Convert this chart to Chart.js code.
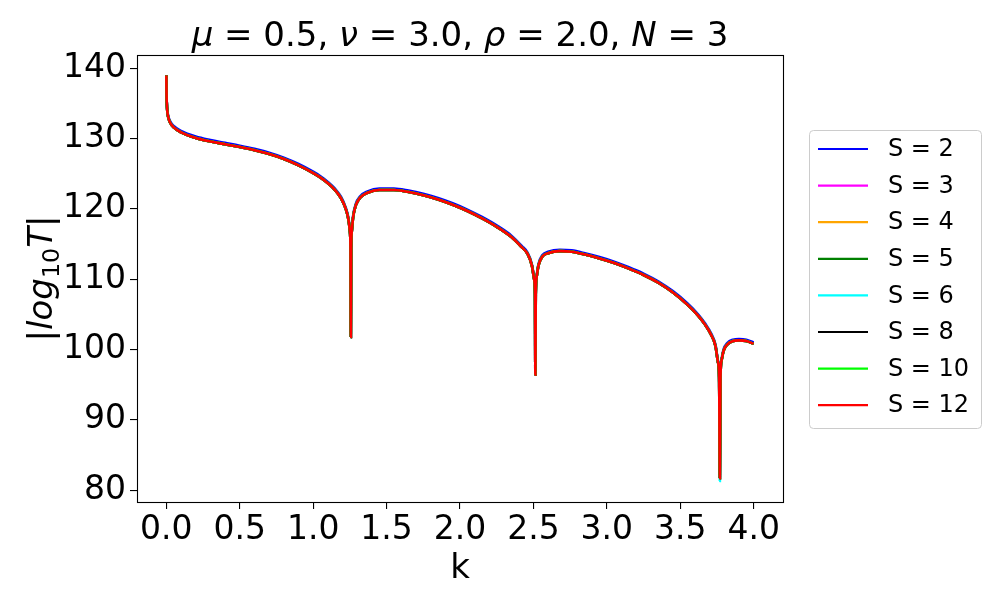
<!DOCTYPE html>
<html>
<head>
<meta charset="utf-8">
<script src="https://cdn.jsdelivr.net/npm/chart.js@4.4.0/dist/chart.umd.min.js"></script>
<style>
  html, body { margin: 0; padding: 0; background: #ffffff; }
  #wrap { width: 1000px; height: 600px; position: relative; }
</style>
</head>
<body>
<div id="wrap"><canvas id="c" width="1000" height="600"></canvas></div>
<script>
// ---- Data ----
const kValues = [0, 0.001, 0.003, 0.006, 0.012, 0.025, 0.05, 0.1, 0.2, 0.3, 0.4, 0.5, 0.6, 0.7, 0.8, 0.9, 1.0, 1.05, 1.1, 1.15, 1.19, 1.22, 1.24, 1.25, 1.254, 1.2566, 1.259, 1.263, 1.272, 1.29, 1.32, 1.37, 1.45, 1.55, 1.65, 1.75, 1.85, 1.95, 2.05, 2.15, 2.25, 2.35, 2.42, 2.46, 2.49, 2.505, 2.511, 2.5133, 2.516, 2.522, 2.535, 2.56, 2.6, 2.68, 2.76, 2.85, 2.95, 3.05, 3.15, 3.25, 3.35, 3.45, 3.55, 3.62, 3.67, 3.71, 3.74, 3.757, 3.765, 3.7699, 3.774, 3.782, 3.795, 3.82, 3.86, 3.9, 3.95, 4.0];

// S = 2 (blue) sits slightly above the others
const logT_S2 = [139.0, 136.6, 135.1, 134.1, 133.3, 132.5, 131.8, 131.1, 130.3, 129.8, 129.4, 129.0, 128.55, 128.0, 127.3, 126.4, 125.3, 124.65, 123.85, 122.85, 121.7, 120.3, 118.7, 117.0, 114.7, 101.8, 114.7, 117.0, 119.0, 120.7, 121.8, 122.5, 122.9, 122.9, 122.6, 122.15, 121.55, 120.8, 119.9, 118.85, 117.65, 116.2, 114.75, 113.8, 112.1, 110.2, 108.0, 96.4, 108.0, 110.5, 112.2, 113.4, 113.9, 114.2, 114.1, 113.7, 113.15, 112.5, 111.7, 110.8, 109.7, 108.3, 106.55, 105.05, 103.7, 102.3, 100.7, 98.4, 96.2, 81.7, 96.2, 98.7, 100.0, 100.9, 101.4, 101.5, 101.4, 101.0];

// S = 3, 4, 5, 8, 10, 12 overlap within a pixel
const logT_common = [139.0, 136.5, 135.0, 134.0, 133.1, 132.3, 131.6, 130.9, 130.1, 129.6, 129.2, 128.8, 128.35, 127.8, 127.1, 126.2, 125.1, 124.45, 123.65, 122.65, 121.5, 120.1, 118.5, 116.8, 114.5, 101.8, 114.5, 116.8, 118.8, 120.5, 121.6, 122.3, 122.7, 122.7, 122.4, 121.95, 121.35, 120.6, 119.7, 118.65, 117.45, 116.0, 114.55, 113.6, 111.9, 110.0, 107.8, 96.4, 107.8, 110.3, 112.0, 113.2, 113.7, 114.0, 113.9, 113.5, 112.95, 112.3, 111.5, 110.6, 109.5, 108.1, 106.35, 104.85, 103.5, 102.1, 100.5, 98.2, 96.0, 81.7, 96.0, 98.5, 99.8, 100.7, 101.2, 101.3, 101.2, 100.8];

// S = 6 (cyan) reaches slightly deeper in the last dip
const logT_S6 = [139.0, 136.5, 135.0, 134.0, 133.1, 132.3, 131.6, 130.9, 130.1, 129.6, 129.2, 128.8, 128.35, 127.8, 127.1, 126.2, 125.1, 124.45, 123.65, 122.65, 121.5, 120.1, 118.5, 116.8, 114.5, 101.8, 114.5, 116.8, 118.8, 120.5, 121.6, 122.3, 122.7, 122.7, 122.4, 121.95, 121.35, 120.6, 119.7, 118.65, 117.45, 116.0, 114.55, 113.6, 111.9, 110.0, 107.8, 96.4, 107.8, 110.3, 112.0, 113.2, 113.7, 114.0, 113.9, 113.5, 112.95, 112.3, 111.5, 110.6, 109.5, 108.1, 106.35, 104.85, 103.5, 102.1, 100.5, 98.2, 96.0, 81.3, 96.0, 98.5, 99.8, 100.7, 101.2, 101.3, 101.2, 100.8];

const seriesLabels = ['S = 2', 'S = 3', 'S = 4', 'S = 5', 'S = 6', 'S = 8', 'S = 10', 'S = 12'];
const seriesColors = ['#0000ff', '#ff00ff', '#ffa500', '#008000', '#00ffff', '#000000', '#00ff00', '#ff0000'];
const seriesValues = [logT_S2, logT_common, logT_common, logT_common, logT_S6, logT_common, logT_common, logT_common];

const xTickValues = [0, 0.5, 1.0, 1.5, 2.0, 2.5, 3.0, 3.5, 4.0];
const yTickValues = [80, 90, 100, 110, 120, 130, 140];

const FONT = '"DejaVu Sans", sans-serif';

const datasets = seriesLabels.map((lab, i) => ({
  label: lab,
  data: kValues.map((k, j) => ({ x: k, y: seriesValues[i][j] })),
  borderColor: seriesColors[i],
  backgroundColor: seriesColors[i],
  borderWidth: 2.6,
  pointRadius: 0,
  pointHoverRadius: 0,
  fill: false,
  showLine: true,
  cubicInterpolationMode: 'monotone',
  order: seriesLabels.length - i
}));

function measureSegments(ctx, segs, size) {
  let w = 0;
  for (const s of segs) {
    const fs = s.sub ? size * 0.7 : size;
    ctx.font = (s.it ? 'italic ' : '') + fs + 'px ' + FONT;
    w += ctx.measureText(s.t).width;
  }
  return w;
}
function renderSegments(ctx, segs, size, x0, y0) {
  let x = x0;
  for (const s of segs) {
    const fs = s.sub ? size * 0.7 : size;
    ctx.font = (s.it ? 'italic ' : '') + fs + 'px ' + FONT;
    ctx.fillText(s.t, x, y0 + (s.sub ? size * 0.22 : 0));
    x += ctx.measureText(s.t).width;
  }
}

const decorPlugin = {
  id: 'decor',
  afterDatasetsDraw(chart) {
    const ctx = chart.ctx;
    const a = chart.chartArea;
    ctx.save();
    // spines
    ctx.strokeStyle = '#000';
    ctx.lineWidth = 1.1;
    ctx.strokeRect(Math.round(a.left) + 0.5, Math.round(a.top) + 0.5, Math.round(a.right - a.left), Math.round(a.bottom - a.top));

    ctx.fillStyle = '#000';
    ctx.textBaseline = 'alphabetic';
    // title
    const tsize = 34;
    const title = [
      { t: 'μ', it: true }, { t: ' = 0.5, ', it: false },
      { t: 'ν', it: true }, { t: ' = 3.0, ', it: false },
      { t: 'ρ', it: true }, { t: ' = 2.0, ', it: false },
      { t: 'N', it: true }, { t: ' = 3', it: false }
    ];
    const tw = measureSegments(ctx, title, tsize);
    const cx = (a.left + a.right) / 2;
    renderSegments(ctx, title, tsize, cx - tw / 2, 46);

    // x label
    ctx.font = '34px ' + FONT;
    ctx.textAlign = 'center';
    ctx.fillText('k', cx, 578);
    ctx.textAlign = 'left';

    // y label (rotated)
    const ylab = [
      { t: '|', it: false }, { t: 'log', it: true }, { t: '10', sub: true },
      { t: 'T', it: true }, { t: '|', it: false }
    ];
    const yw = measureSegments(ctx, ylab, 34);
    ctx.save();
    ctx.translate(52, (a.top + a.bottom) / 2);
    ctx.rotate(-Math.PI / 2);
    renderSegments(ctx, ylab, 34, -yw / 2, 0);
    ctx.restore();

    // legend
    const lx = 809, ly = 130, lw = 172, lh = 298;
    ctx.beginPath();
    if (ctx.roundRect) ctx.roundRect(lx + 0.5, ly + 0.5, lw, lh, 4); else ctx.rect(lx + 0.5, ly + 0.5, lw, lh);
    ctx.fillStyle = 'rgba(255,255,255,0.8)';
    ctx.fill();
    ctx.strokeStyle = '#cccccc';
    ctx.lineWidth = 1;
    ctx.stroke();
    ctx.font = '24px ' + FONT;
    ctx.textBaseline = 'middle';
    for (let i = 0; i < seriesLabels.length; i++) {
      const yy = 149 + i * 36.6;
      ctx.beginPath();
      ctx.strokeStyle = seriesColors[i];
      ctx.lineWidth = 2.2;
      ctx.moveTo(818, yy);
      ctx.lineTo(868, yy);
      ctx.stroke();
      ctx.fillStyle = '#000';
      ctx.fillText(seriesLabels[i], 888, yy + 1);
    }
    ctx.restore();
  }
};

new Chart(document.getElementById('c'), {
  type: 'line',
  data: { datasets },
  options: {
    responsive: false,
    animation: false,
    events: [],
    layout: { padding: { top: 55, right: 217, bottom: 0, left: 0 } },
    plugins: { legend: { display: false }, tooltip: { enabled: false }, title: { display: false } },
    scales: {
      x: {
        type: 'linear',
        min: -0.2,
        max: 4.2,
        afterBuildTicks: (s) => { s.ticks = xTickValues.map(v => ({ value: v })); },
        afterFit: (s) => { s.height = 98; },
        ticks: {
          autoSkip: false, maxRotation: 0, minRotation: 0,
          color: '#000', padding: 2,
          font: { family: FONT, size: 33 },
          callback: (v) => Number(v).toFixed(1)
        },
        grid: { display: true, drawOnChartArea: false, drawTicks: true, tickLength: 7, color: '#000', lineWidth: 1.1 },
        border: { display: false }
      },
      y: {
        type: 'linear',
        min: 78.3,
        max: 141.9,
        afterBuildTicks: (s) => { s.ticks = yTickValues.map(v => ({ value: v })); },
        afterFit: (s) => { s.width = 137; },
        ticks: {
          autoSkip: false, color: '#000', padding: 4,
          font: { family: FONT, size: 33 },
          callback: (v) => String(v)
        },
        grid: { display: true, drawOnChartArea: false, drawTicks: true, tickLength: 7, color: '#000', lineWidth: 1.1 },
        border: { display: false }
      }
    }
  },
  plugins: [decorPlugin]
});
</script>
</body>
</html>
